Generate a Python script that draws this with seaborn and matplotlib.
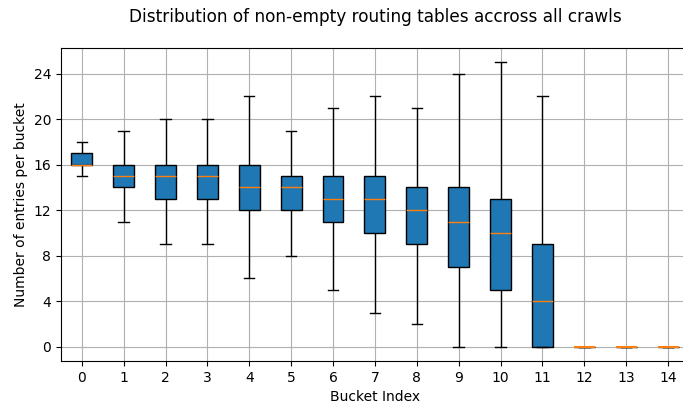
import matplotlib
matplotlib.use("Agg")
import matplotlib.pyplot as plt
import seaborn as sns
import pandas as pd

buckets = list(range(15))
whisker_low = [15, 11, 9, 9, 6, 8, 5, 3, 2, 0, 0, 0, 0, 0, 0]
q1 = [16, 14, 13, 13, 12, 12, 11, 10, 9, 7, 5, 0, 0, 0, 0]
median = [16, 15, 15, 15, 14, 14, 13, 13, 12, 11, 10, 4, 0, 0, 0]
q3 = [17, 16, 16, 16, 16, 15, 15, 15, 14, 14, 13, 9, 0, 0, 0]
whisker_high = [18, 19, 20, 20, 22, 19, 21, 22, 21, 24, 25, 22, 0, 0, 0]
yticks = [0, 4, 8, 12, 16, 20, 24]

rows = []
for i, b in enumerate(buckets):
    for v in (whisker_low[i], q1[i], median[i], q3[i], whisker_high[i]):
        rows.append({"bucket": b, "entries": v})
df = pd.DataFrame(rows)

plt.rcParams["font.family"] = ["DejaVu Sans"]
fig = plt.figure(figsize=(6.83, 4.07), dpi=100)
ax = fig.add_axes([60.8 / 683, 1 - 361 / 407, (689 - 60.8) / 683, (361 - 48) / 407])

sns.boxplot(data=df, x="bucket", y="entries", ax=ax, order=buckets,
            color="#1f77b4", saturation=1, width=0.5, whis=(0, 100),
            linecolor="black", linewidth=1.0, fliersize=0,
            medianprops={"color": "#ff7f0e", "linewidth": 1.0})

for cont in ax.containers:
    meds = getattr(cont, "medians", None)
    if meds is None:
        continue
    for m in meds:
        m.set_zorder(10)
        m.set_color("#ff7f0e")
    for j, m in enumerate(meds):
        if q1[j] == q3[j]:
            m.set_linewidth(1.5)

ax.set_xlim(-0.5, 14.5)
ax.set_ylim(-1.25, 26.25)
ax.set_yticks(yticks)
ax.set_xticks(buckets)
ax.set_xticklabels([str(b) for b in buckets])
ax.grid(True, color="#b0b0b0", linewidth=0.8)
ax.set_axisbelow(True)
ax.set_xlabel("Bucket Index")
ax.set_ylabel("Number of entries per bucket")
ax.set_title("Distribution of non-empty routing tables accross all crawls", fontsize=12.2, pad=19)

fig.savefig("out.png", dpi=100)
